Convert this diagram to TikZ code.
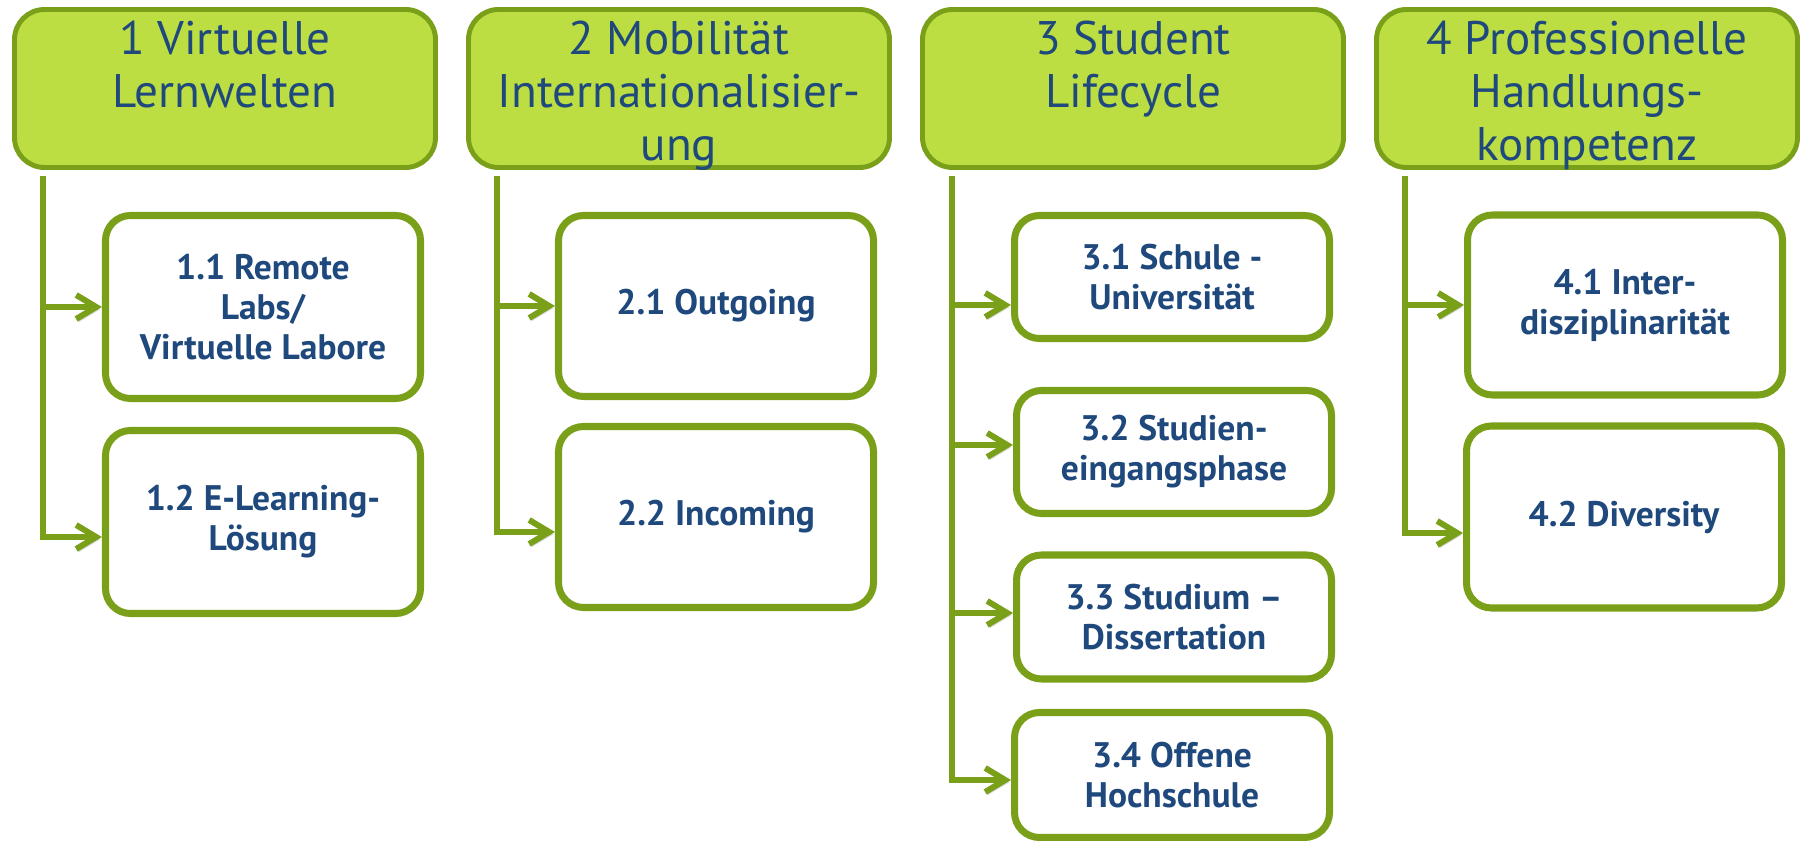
\documentclass[tikz,border=0pt]{standalone}
\usepackage{fontspec}
\setmainfont{PT Sans}
\usepackage{tikz}
\usetikzlibrary{arrows.meta,positioning}
\definecolor{lgreen}{RGB}{188,222,66}
\definecolor{dgreen}{RGB}{122,160,26}
\definecolor{tblue}{RGB}{31,73,125}

\begin{document}
\begin{tikzpicture} [{head/.style={rectangle,rounded corners=3mm,draw=dgreen,fill=lgreen,line width=1.4pt,minimum width=4.21cm,minimum height=1.58cm}},{headtext/.style={inner sep=0pt,align=center,text=tblue,font=\fontsize{13.4}{15.1}\selectfont}},{sub/.style={rectangle,rounded corners=2.5mm,draw=dgreen,fill=white,line width=2pt,minimum width=3.15cm,inner sep=0pt,align=center,text=tblue,font=\fontsize{10.1}{11.4}\selectfont\bfseries}},{trunk/.style={draw=dgreen,line width=1.7pt,preaction={draw=black!15,transform canvas={shift={(0.7pt,-0.7pt)}}}}},{arr/.style={trunk,-{Straight Barb[length=2mm,width=2.4mm]}}}]
		\useasboundingbox (0,0) rectangle (18.02,-8.41);
		%%header boxes
		\node at (2.25,-0.885) [head] (h1) {};
		\node at (6.79,-0.885) [head] (h2) {};
		\node at (11.33,-0.885) [head] (h3) {};
		\node at (15.87,-0.885) [head] (h4) {};
		%%header texts
		\node [headtext,below=0.13cm of h1.north] (h1t) {\vphantom{l}1 Virtuelle\\Lernwelten};
		\node [headtext,below=0.13cm of h2.north] (h2t) {\vphantom{l}2 Mobilität\\Internationalisier-\\ung};
		\node [headtext,below=0.13cm of h3.north] (h3t) {\vphantom{l}3 Student\\Lifecycle};
		\node [headtext,below=0.13cm of h4.north] (h4t) {\vphantom{l}4 Professionelle\\Handlungs-\\kompetenz};
		%%trunk tops
		\coordinate (t1) at (0.43,-1.76);
		\coordinate (t2) at (4.97,-1.76);
		\coordinate (t3) at (9.52,-1.76);
		\coordinate (t4) at (14.05,-1.76);
		%%sub boxes
		\node at (2.63,-3.07) [sub,minimum height=1.83cm] (b11) {1.1 Remote\\Labs/\\Virtuelle Labore};
		\node at (2.63,-5.22) [sub,minimum height=1.83cm] (b12) {1.2 E-Learning-\\Lösung};
		\node at (7.16,-3.06) [sub,minimum height=1.81cm] (b21) {2.1 Outgoing};
		\node at (7.16,-5.17) [sub,minimum height=1.81cm] (b22) {2.2 Incoming};
		\node at (11.72,-2.77) [sub,minimum height=1.23cm] (b31) {3.1 Schule -\\Universität};
		\node at (11.74,-4.52) [sub,minimum height=1.23cm] (b32) {3.2 Studien-\\eingangsphase};
		\node at (11.74,-6.17) [sub,minimum height=1.24cm] (b33) {3.3 Studium –\\Dissertation};
		\node at (11.72,-7.75) [sub,minimum height=1.25cm] (b34) {3.4 Offene\\Hochschule};
		\node at (16.25,-3.05) [sub,minimum height=1.80cm] (b41) {4.1 Inter-\\disziplinarität};
		\node at (16.24,-5.17) [sub,minimum height=1.82cm] (b42) {4.2 Diversity};
		%%connectors
		\draw [arr] (t1) |- ([yshift=-0.15cm]b12.west);
		\draw [arr] (t1 |- b11.west) -- (b11.west);
		\draw [arr] (t2) |- ([yshift=-0.15cm]b22.west);
		\draw [arr] (t2 |- b21.west) -- (b21.west);
		\draw [arr] (t3) |- ([yshift=-0.05cm]b34.west);
		\draw [arr] (t3 |- b31.west) ++(0,-0.28) -- ([yshift=-0.28cm]b31.west);
		\draw [arr] (t3 |- b32.west) ++(0,0.07) -- ([yshift=0.07cm]b32.west);
		\draw [arr] (t3 |- b33.west) ++(0,0.04) -- ([yshift=0.04cm]b33.west);
		\draw [arr] (t4) |- ([yshift=-0.16cm]b42.west);
		\draw [arr] (t4 |- b41.west) -- (b41.west);
	\end{tikzpicture}
\end{document}
